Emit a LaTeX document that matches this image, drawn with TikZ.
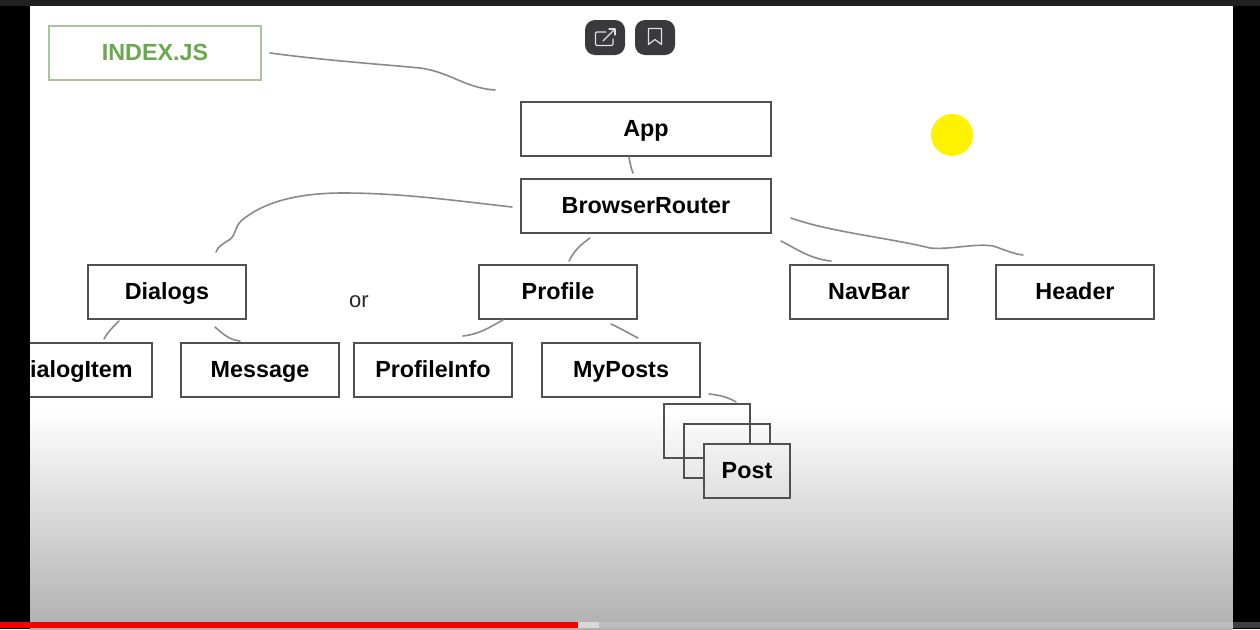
\documentclass[tikz,border=0pt]{standalone}
\usepackage{fontspec}
\setmainfont{Liberation Sans}
\definecolor{boxline}{HTML}{505050}
\definecolor{curve}{HTML}{8A8A8A}
\definecolor{idxline}{HTML}{A9C69A}
\definecolor{idxtext}{HTML}{6AA84F}
\definecolor{bar}{HTML}{212121}
\definecolor{btn}{HTML}{3A3A3C}
\definecolor{shadeend}{HTML}{B0B0B0}
\tikzset{
  box/.style={draw=boxline,line width=1.5pt,fill=none,minimum width=#1,minimum height=40.5pt,inner sep=0pt,text height=10.5pt,text depth=0pt,font=\fontsize{17.5}{20}\selectfont\bfseries,text=black},
  box/.default=118.5pt,
  link/.style={draw=curve,line width=1.2pt,line cap=round},
  icon/.style={draw=white!88!black,line width=.9pt,line join=round,line cap=round}
}
\begin{document}
\begin{tikzpicture}[x=0.75pt,y=-0.75pt]
\useasboundingbox (0,0) rectangle (1260,629);
\fill[white] (0,0) rectangle (1260,629);
\shade[top color=white,bottom color=shadeend] (30,410) rectangle (1233,629);

% nodes
\node[box=187.5pt] (app) at (646,129) {App};
\node[box=187.5pt] (router) at (646,206) {BrowserRouter};
\node[box] (dialogs) at (167,292) {Dialogs};
\node[box] (profile) at (558,292) {Profile};
\node[box] (navbar) at (869,292) {NavBar};
\node[box] (header) at (1075,292) {Header};
\node[box] (dialogitem) at (73,370) {DialogItem};
\node[box] (message) at (260,370) {Message};
\node[box] (profileinfo) at (433,370) {ProfileInfo};
\node[box] (myposts) at (621,370) {MyPosts};
\node[box=64.5pt] (post1) at (707,431) {};
\node[box=64.5pt] (post2) at (727,451) {};
\node[box=64.5pt,top color=white!84!shadeend,bottom color=white!60!shadeend] (post3) at (747,471) {Post};
\node[font=\fontsize{16.5}{20}\selectfont,text=black!85,text height=11pt,text depth=0pt,inner sep=0pt] (or) at (359,300.5) {or};
\node[draw=idxline,line width=1.5pt,minimum width=159pt,minimum height=40.5pt,inner sep=0pt,text height=10.5pt,text depth=0pt,text=idxtext,font=\fontsize{17.5}{20}\selectfont\bfseries] (index) at (155,53) {INDEX.JS};

% free ends of the hand-drawn strokes
\coordinate (a1) at (270,53);
\coordinate (a2) at (495,90);
\coordinate (b1) at (629,157);
\coordinate (b2) at (633,173);
\coordinate (c1) at (512,207);
\coordinate (c2) at (216,252);
\coordinate (d1) at (590,238);
\coordinate (d2) at (569,261);
\coordinate (e1) at (781,241);
\coordinate (e2) at (831,261);
\coordinate (f1) at (791,218);
\coordinate (f2) at (1023,255);
\coordinate (g1) at (119,321);
\coordinate (g2) at (104,339);
\coordinate (h1) at (215,327);
\coordinate (h2) at (240,341);
\coordinate (i1) at (503,320);
\coordinate (i2) at (463,336);
\coordinate (j1) at (611,324);
\coordinate (j2) at (638,338);
\coordinate (k1) at (709,394);
\coordinate (k2) at (736,402);

\draw[link] (a1) .. controls (330,61) and (390,65) .. (420,68) .. controls (450,72) and (465,88) .. (a2);
\draw[link] (b1) .. controls (630,163) and (631,168) .. (b2);
\draw[link] (c1) .. controls (450,200) and (400,193) .. (343,193) .. controls (295,193) and (262,203) .. (241,221) .. controls (234,228) and (236,236) .. (229,240) .. controls (223,244) and (218,246) .. (c2);
\draw[link] (d1) .. controls (580,245) and (574,251) .. (d2);
\draw[link] (e1) .. controls (795,248) and (810,259) .. (e2);
\draw[link] (f1) .. controls (830,232) and (890,238) .. (930,248) .. controls (950,250) and (975,243) .. (993,246) .. controls (1003,249) and (1013,254) .. (f2);
\draw[link] (g1) .. controls (112,328) and (107,333) .. (g2);
\draw[link] (h1) .. controls (224,335) and (230,340) .. (h2);
\draw[link] (i1) .. controls (490,327) and (480,334) .. (i2);
\draw[link] (j1) .. controls (620,328) and (630,334) .. (j2);
\draw[link] (k1) .. controls (720,395) and (730,398) .. (k2);

% video frame
\fill[black] (0,0) rectangle (30,629);
\fill[black] (1233,0) rectangle (1260,629);
\fill[bar] (0,0) rectangle (1260,6);
\fill[yellow] (952,135) circle (21);
\fill[shadeend!85!white] (0,622) rectangle (1233,627.5);
\fill[black!75] (1233,622) rectangle (1260,627.5);
\fill[black!15] (578,622) rectangle (599,627.5);
\fill[red!95!black] (0,622) rectangle (578,627.5);

% player buttons
\fill[btn,rounded corners=7.5pt] (585,20) rectangle (625,55);
\fill[btn,rounded corners=7.5pt] (635,20) rectangle (675,55);
\draw[icon,rounded corners=1pt] (606,32) -- (595.5,32) -- (595.5,45.5) -- (613,45.5) -- (613,39);
\draw[icon] (603,41) -- (615,29);
\draw[icon] (609,29) -- (615,29) -- (615,35);
\draw[icon] (648.5,28.5) -- (661.5,28.5) -- (661.5,44.5) -- (655,39.5) -- (648.5,44.5) -- cycle;
\end{tikzpicture}
\end{document}
